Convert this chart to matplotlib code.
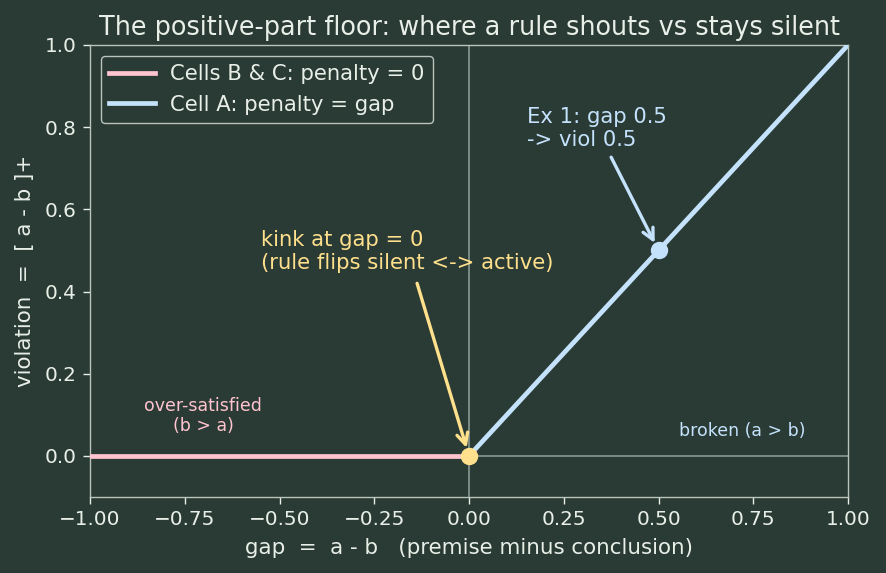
import numpy as np
import matplotlib
matplotlib.use("Agg")
import matplotlib.pyplot as plt

plt.rcParams['font.family'] = ['DejaVu Sans']

gap_left = [-1.0, 0.0]
viol_left = [0.0, 0.0]
gap_right = [0.0, 1.0]
viol_right = [0.0, 1.0]
kink_pt = (0.0, 0.0)
ex1_pt = (0.5, 0.5)

BG = "#2a3a34"
FG = "#e8efe8"
PINK = "#ffc4d0"
BLUE = "#c4e2fc"
YEL = "#ffe08c"

fig = plt.figure(figsize=(8.86, 5.73), dpi=100, facecolor=BG)
ax = fig.add_axes([90/886, 1-497/573, (848-90)/886, (497-45)/573])
ax.set_facecolor(BG)

ax.axhline(0, color="#8a9a92", lw=1.2, zorder=1)
ax.axvline(0, color="#8a9a92", lw=1.2, zorder=1)

ax.plot(gap_left, viol_left, color=PINK, lw=3.4, label="Cells B & C: penalty = 0", zorder=3)
ax.plot(gap_right, viol_right, color=BLUE, lw=3.4, label="Cell A: penalty = gap", zorder=3)
ax.plot(*kink_pt, 'o', color=YEL, ms=11.5, zorder=5)
ax.plot(*ex1_pt, 'o', color=BLUE, ms=11.5, zorder=5)

ax.text(-0.55, 0.445, "kink at gap = 0\n(rule flips silent <-> active)", color=YEL,
        fontsize=15.2, ha="left", va="bottom")
ax.annotate("", xy=kink_pt, xytext=(-0.137, 0.42),
            arrowprops=dict(arrowstyle="->", color=YEL, lw=2.4, shrinkA=0, shrinkB=6,
                            mutation_scale=20), zorder=6)
ax.text(0.152, 0.745, "Ex 1: gap 0.5\n-> viol 0.5", color=BLUE,
        fontsize=15.2, ha="left", va="bottom")
ax.annotate("", xy=ex1_pt, xytext=(0.375, 0.727),
            arrowprops=dict(arrowstyle="->", color=BLUE, lw=2.4, shrinkA=0, shrinkB=6,
                            mutation_scale=20), zorder=6)

ax.text(-0.702, 0.097, "over-satisfied\n(b > a)", color=PINK, fontsize=12.5, ha="center", va="center")
ax.text(0.72, 0.061, "broken (a > b)", color=BLUE, fontsize=12.5, ha="center", va="center")

ax.set_xlim(-1, 1)
ax.set_ylim(-0.1, 1.0)
ax.set_xticks(np.arange(-1, 1.01, 0.25))
ax.set_yticks(np.arange(0, 1.01, 0.2))
ax.tick_params(colors=FG, labelsize=14.4, length=5, width=1.0, pad=4.5)
for s in ax.spines.values():
    s.set_color("#b8c4bc")
    s.set_linewidth(1.0)
ax.set_xlabel("gap  =  a - b   (premise minus conclusion)", color=FG, fontsize=15.4, labelpad=6)
ax.set_ylabel("violation  =  [ a - b ]+", color=FG, fontsize=15.4, labelpad=7)
ax.set_title("The positive-part floor: where a rule shouts vs stays silent", color=FG,
             fontsize=18.4, pad=7)

leg = ax.legend(loc="upper left", fontsize=15.2, facecolor=BG, edgecolor="#b8c4bc",
                framealpha=1, handlelength=2.2, handletextpad=0.7)
for t in leg.get_texts():
    t.set_color(FG)

fig.savefig("out.png", dpi=100, facecolor=BG)
